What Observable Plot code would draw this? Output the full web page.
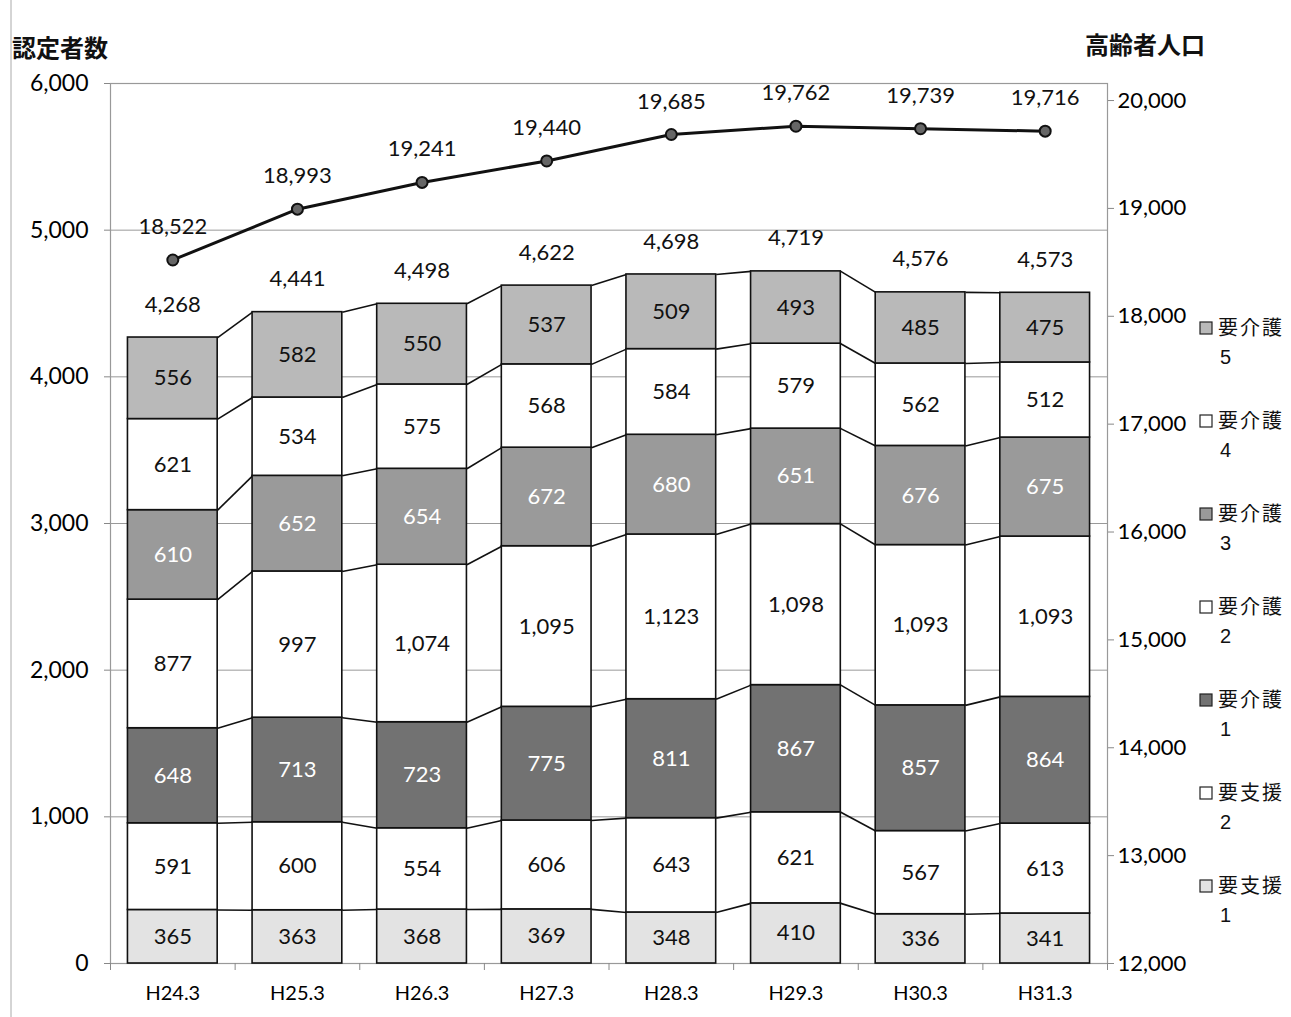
<!DOCTYPE html>
<html><head><meta charset="utf-8">
<script src="https://cdn.jsdelivr.net/npm/d3@7"></script>
<script src="https://cdn.jsdelivr.net/npm/@observablehq/plot@0.6"></script>
<style>body{margin:0;background:#fff} #chart{width:1291px;height:1017px}</style>
</head><body><div id="chart"></div>
<script>
const categories = ["H24.3","H25.3","H26.3","H27.3","H28.3","H29.3","H30.3","H31.3"];
const seriesNames = ["要支援1","要支援2","要介護1","要介護2","要介護3","要介護4","要介護5"];
const shien1  = [365, 363, 368, 369, 348, 410, 336, 341];
const shien2  = [591, 600, 554, 606, 643, 621, 567, 613];
const kaigo1  = [648, 713, 723, 775, 811, 867, 857, 864];
const kaigo2  = [877, 997, 1074, 1095, 1123, 1098, 1093, 1093];
const kaigo3  = [610, 652, 654, 672, 680, 651, 676, 675];
const kaigo4  = [621, 534, 575, 568, 584, 579, 562, 512];
const kaigo5  = [556, 582, 550, 537, 509, 493, 485, 475];
const totals  = [4268, 4441, 4498, 4622, 4698, 4719, 4576, 4573];
const population = [18522, 18993, 19241, 19440, 19685, 19762, 19739, 19716];
const leftTicks = [0, 1000, 2000, 3000, 4000, 5000, 6000];
const rightTicks = [12000, 13000, 14000, 15000, 16000, 17000, 18000, 19000, 20000];

const seriesValues = [shien1, shien2, kaigo1, kaigo2, kaigo3, kaigo4, kaigo5];
const fills = {"要支援1":"#e3e3e3","要支援2":"#ffffff","要介護1":"#727272","要介護2":"#ffffff","要介護3":"#9a9a9a","要介護4":"#ffffff","要介護5":"#b9b9b9"};
const lightText = new Set(["要介護1","要介護3"]);

const fmt = d3.format(",");
const hw = 0.36;
const rMin = 12000, rMax = 20158;
const toLeft = v => (v - rMin) / (rMax - rMin) * 6000;
const fromLeft = y => y / 6000 * (rMax - rMin) + rMin;

// stacked segments
const segments = [];
const tops = seriesNames.map(() => []);
categories.forEach((c, i) => {
  let acc = 0;
  seriesNames.forEach((s, k) => {
    const v = seriesValues[k][i];
    segments.push({i, series: s, value: v, y1: acc, y2: acc + v});
    acc += v;
    tops[k][i] = acc;
  });
});
const links = [];
tops.forEach((arr, k) => {
  for (let i = 0; i < arr.length - 1; i++) links.push({x1: i + hw, x2: i + 1 - hw, y1: arr[i], y2: arr[i + 1]});
});
const totalData = totals.map((t, i) => ({i, t}));
const popData = population.map((v, i) => ({i, v}));

const svg = Plot.plot({
  width: 1291, height: 1017,
  marginLeft: 110, marginRight: 184, marginTop: 83, marginBottom: 54,
  x: {domain: [-0.5, 7.5]},
  y: {domain: [0, 6000]},
  style: {fontFamily: "Lato, sans-serif", background: "#fff"},
  marks: [
    Plot.gridY(leftTicks, {stroke: "#999", strokeOpacity: 1, strokeWidth: 1}),
    Plot.frame({stroke: "#999", strokeWidth: 1.2}),
    Plot.axisY(leftTicks, {anchor: "left", tickSize: 6, tickPadding: 16, stroke: "#888", tickFormat: fmt, fontSize: 23, label: null}),
    Plot.axisY(rightTicks.map(toLeft), {anchor: "right", tickSize: 6, tickPadding: 4, stroke: "#888", fontSize: 22, label: null,
      tickFormat: d => fmt(Math.round(fromLeft(d) / 1000) * 1000)}),
    Plot.axisX(d3.range(-0.5, 8, 1), {tickSize: 7, stroke: "#888", tickFormat: () => "", label: null}),
    Plot.axisX(d3.range(0, 8), {tickSize: 0, tickPadding: 22, fontSize: 20, tickFormat: i => categories[i], label: null}),
    Plot.link(links, {x1: "x1", x2: "x2", y1: "y1", y2: "y2", stroke: "#111", strokeWidth: 1.6}),
    Plot.rect(segments, {x1: d => d.i - hw, x2: d => d.i + hw, y1: "y1", y2: "y2", fill: d => fills[d.series], stroke: "#111", strokeWidth: 1.6}),
    Plot.text(segments, {x: "i", y: d => (d.y1 + d.y2) / 2, text: d => fmt(d.value), fontSize: 22,
      fill: d => lightText.has(d.series) ? "#ffffff" : "#111111"}),
    Plot.text(totalData, {x: "i", y: "t", dy: -33, text: d => fmt(d.t), fontSize: 22, fill: "#111"}),
    Plot.line(popData, {x: "i", y: d => toLeft(d.v), stroke: "#111", strokeWidth: 3}),
    Plot.dot(popData, {x: "i", y: d => toLeft(d.v), r: 5.5, fill: "#666", stroke: "#111", strokeWidth: 2}),
    Plot.text(popData, {x: "i", y: d => toLeft(d.v), dy: -33, text: d => fmt(d.v), fontSize: 22, fill: "#111"})
  ]
});

const s = d3.select(svg);
s.append("line").attr("x1", 11).attr("x2", 11).attr("y1", 0).attr("y2", 1017).attr("stroke", "#aaa").attr("stroke-width", 1);
const cjk = "'Noto Sans CJK JP', sans-serif";
s.append("text").attr("x", 12).attr("y", 57).attr("text-anchor", "start").attr("font-family", cjk).attr("font-size", 24).attr("font-weight", "bold").attr("fill", "#111").text("認定者数");
s.append("text").attr("x", 1085).attr("y", 54).attr("text-anchor", "start").attr("font-family", cjk).attr("font-size", 24).attr("font-weight", "bold").attr("fill", "#111").text("高齢者人口");

const legendItems = seriesNames.slice().reverse();
legendItems.forEach((name, j) => {
  const y = 328 + j * 93;
  const g = s.append("g").attr("text-anchor", "start");
  g.append("rect").attr("x", 1200).attr("y", y - 6).attr("width", 12).attr("height", 12)
    .attr("fill", fills[name]).attr("stroke", "#222").attr("stroke-width", 1.2);
  g.append("text").attr("x", 1218).attr("y", y + 7).attr("font-family", cjk).attr("font-size", 20).attr("fill", "#111")
    .attr("letter-spacing", 2).text(name.slice(0, 3));
  g.append("text").attr("x", 1220).attr("y", y + 36).attr("font-family", "Liberation Sans, sans-serif").attr("font-size", 20).attr("fill", "#111")
    .text(name.slice(3));
});

document.getElementById("chart").appendChild(svg);
</script>
</body></html>
